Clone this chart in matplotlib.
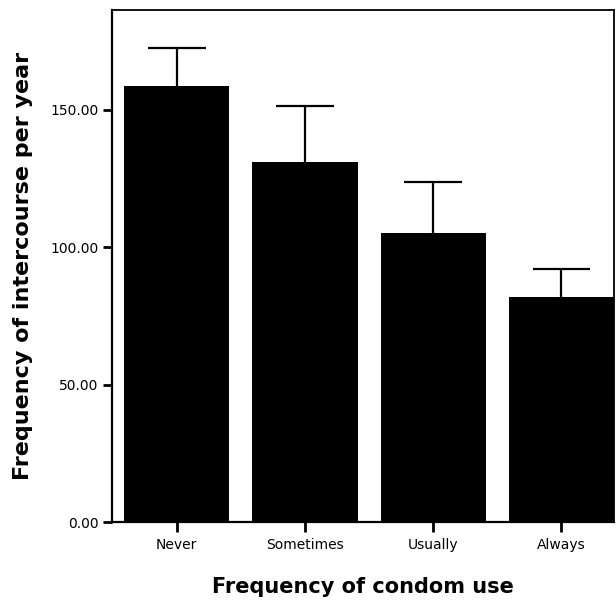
import matplotlib
matplotlib.use("Agg")
import matplotlib.pyplot as plt
import numpy as np

categories = ["Never", "Sometimes", "Usually", "Always"]
means = [158.8, 131.2, 105.3, 82.0]
upper = [172.7, 151.6, 123.7, 92.0]

fig = plt.figure(figsize=(6.16, 6.02), dpi=100)
ax = fig.add_axes([112/616, 1 - 522/602, (614-112)/616, (522-10)/602])

x = np.arange(len(categories))
ax.bar(x, means, width=0.82, color="black", zorder=2)
# upper error bars only (whisker + cap)
ax.vlines(x, means, upper, color="black", lw=1.6, zorder=1)
ax.hlines(upper, x - 0.225, x + 0.225, color="black", lw=1.6, zorder=1)

ax.set_xlim(-0.505, 3.41)
ax.set_ylim(0, 186.4)
ax.set_yticks([0, 50, 100, 150])
ax.set_yticklabels(["0.00", "50.00", "100.00", "150.00"], fontsize=10, family="DejaVu Sans")
ax.set_xticks(x)
ax.set_xticklabels(categories, fontsize=10, family="DejaVu Sans")
ax.tick_params(axis="y", direction="out", length=6.5, width=2, pad=3)
ax.tick_params(axis="x", direction="out", length=7.5, width=2, pad=4)

for s in ax.spines.values():
    s.set_linewidth(1.3)
ax.spines["left"].set_linewidth(1.6)
ax.spines["bottom"].set_linewidth(1.6)

ax.set_xlabel("Frequency of condom use", fontsize=15, fontweight="bold",
              family="DejaVu Sans", va="center")
ax.set_ylabel("Frequency of intercourse per year", fontsize=16, fontweight="bold",
              family="DejaVu Sans")
ax.xaxis.set_label_coords(0.5, -0.127)
ax.yaxis.set_label_coords(-0.158, 0.5)

fig.savefig("out.png", dpi=100)
